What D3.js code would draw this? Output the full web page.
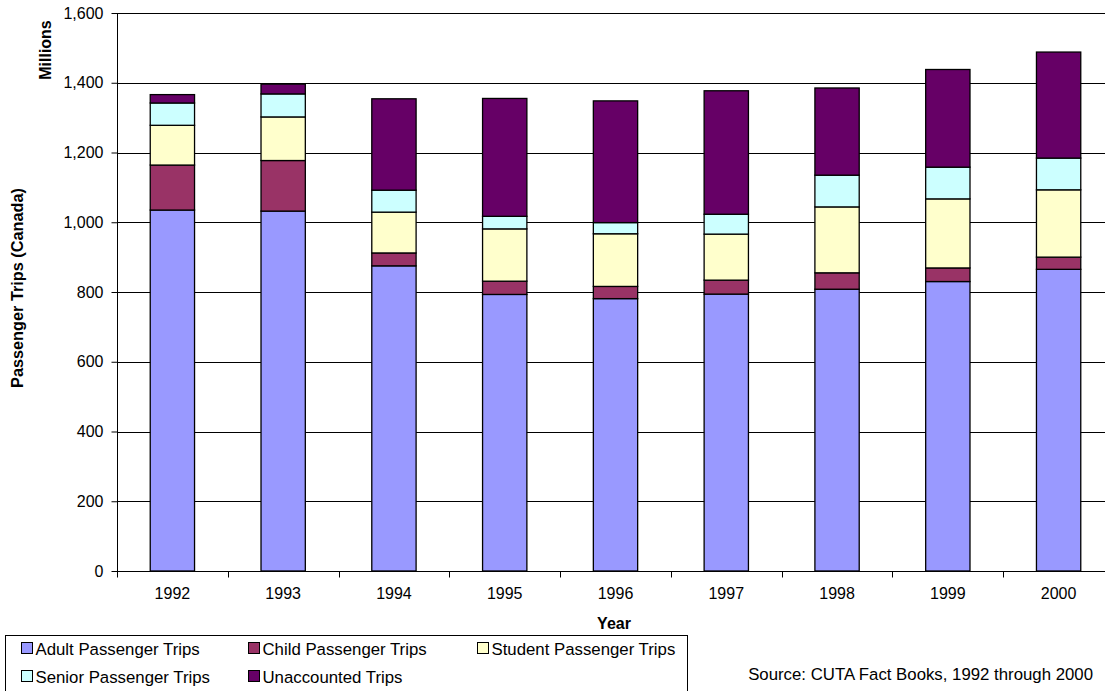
<!DOCTYPE html>
<html>
<head>
<meta charset="utf-8">
<script src="https://cdn.jsdelivr.net/npm/d3@7"></script>
<style>
  html, body { margin: 0; padding: 0; background: #fff; }
  svg { display: block; font-family: Arial, "Liberation Sans", sans-serif; }
</style>
</head>
<body>
<svg id="chart" width="1105" height="691"></svg>
<script>
// Passenger trips in Canada by fare category, millions
const years = ["1992", "1993", "1994", "1995", "1996", "1997", "1998", "1999", "2000"];
const adultTrips       = [1035, 1032, 875, 793, 781, 794, 808, 830, 865];
const childTrips       = [129, 145, 37, 38, 35, 40, 47, 39, 35];
const studentTrips     = [114, 125, 117, 150, 151, 132, 189, 198, 193];
const seniorTrips      = [64, 66, 63, 36, 32, 57, 91, 91, 91];
const unaccountedTrips = [24, 28, 262, 338, 349, 354, 250, 280, 304];

const seriesNames = ["Adult Passenger Trips", "Child Passenger Trips", "Student Passenger Trips",
                     "Senior Passenger Trips", "Unaccounted Trips"];
const seriesColors = ["#9999FF", "#993366", "#FFFFCC", "#CCFFFF", "#660066"];
const yTicks = [0, 200, 400, 600, 800, 1000, 1200, 1400, 1600];

const seriesValues = [adultTrips, childTrips, studentTrips, seniorTrips, unaccountedTrips];
const table = years.map((y, i) => {
  const row = { year: y };
  seriesNames.forEach((s, k) => { row[s] = seriesValues[k][i]; });
  return row;
});

const svg = d3.select("#chart");
const plot = { left: 117, top: 13, right: 1114, bottom: 571 };

const x = d3.scaleBand().domain(years).range([plot.left, plot.right])
  .paddingInner(0.6).paddingOuter(0.3);
const y = d3.scaleLinear().domain([0, 1600]).range([plot.bottom, plot.top]);

// horizontal gridlines
svg.append("g")
  .selectAll("line").data(yTicks.filter(d => d > 0)).join("line")
  .attr("x1", plot.left).attr("x2", plot.right)
  .attr("y1", d => Math.round(y(d)) + 0.5).attr("y2", d => Math.round(y(d)) + 0.5)
  .attr("stroke", "#000").attr("stroke-width", 1);

// stacked bars
const stack = d3.stack().keys(seriesNames)(table);
svg.append("g").selectAll("g").data(stack).join("g")
  .attr("fill", (d, i) => seriesColors[i])
  .selectAll("rect").data(d => d).join("rect")
  .attr("x", d => x(d.data.year))
  .attr("y", d => y(d[1]))
  .attr("width", x.bandwidth())
  .attr("height", d => y(d[0]) - y(d[1]))
  .attr("stroke", "#000").attr("stroke-width", 1.3);

// y axis
const yAxis = svg.append("g")
  .attr("transform", `translate(${plot.left + 0.5},0)`)
  .call(d3.axisLeft(y).tickValues(yTicks).tickSize(6).tickPadding(8)
    .tickFormat(d3.format(",")));
yAxis.select(".domain").attr("stroke", "#000").attr("d", `M0,${plot.top}V${plot.bottom}`);
yAxis.selectAll(".tick line").attr("stroke", "#000");
yAxis.selectAll(".tick text").attr("font-size", 16).attr("fill", "#000")
  .attr("font-family", "Arial, 'Liberation Sans', sans-serif");

// x axis: ticks sit between categories
const xAxisG = svg.append("g").attr("transform", `translate(0,${plot.bottom + 0.5})`);
xAxisG.append("line").attr("x1", plot.left).attr("x2", plot.right)
  .attr("stroke", "#000");
const step = x.step();
const boundaries = d3.range(years.length + 1).map(i => plot.left + i * step);
xAxisG.selectAll("line.tk").data(boundaries).join("line").attr("class", "tk")
  .attr("x1", d => Math.round(d) + 0.5).attr("x2", d => Math.round(d) + 0.5)
  .attr("y1", 0).attr("y2", 6).attr("stroke", "#000");
xAxisG.selectAll("text").data(years).join("text")
  .attr("x", d => x(d) + x.bandwidth() / 2)
  .attr("y", 27)
  .attr("text-anchor", "middle")
  .attr("font-size", 16)
  .text(d => d);

// axis titles
svg.append("text").attr("x", 614).attr("y", 629).attr("text-anchor", "middle")
  .attr("font-size", 16).attr("font-weight", "bold").text("Year");
svg.append("text").attr("transform", "translate(51,50) rotate(-90)")
  .attr("text-anchor", "middle").attr("font-size", 16).attr("font-weight", "bold")
  .text("Millions");
svg.append("text").attr("transform", "translate(23,288) rotate(-90)")
  .attr("text-anchor", "middle").attr("font-size", 16.3).attr("font-weight", "bold")
  .text("Passenger Trips (Canada)");

// legend
const legend = svg.append("g");
legend.append("rect").attr("x", 5.5).attr("y", 635.5).attr("width", 682).attr("height", 70)
  .attr("fill", "#fff").attr("stroke", "#000");
const legendPos = [[21, 648], [248, 648], [477, 648], [21, 676], [248, 676]];
seriesNames.forEach((name, i) => {
  const [lx, ly] = legendPos[i];
  legend.append("rect").attr("x", lx + 0.5).attr("y", ly - 5.5).attr("width", 11).attr("height", 11)
    .attr("fill", seriesColors[i]).attr("stroke", "#000");
  legend.append("text").attr("x", lx + 14.5).attr("y", ly + 6.5)
    .attr("font-size", 16.8).text(name);
});

// source note
svg.append("text").attr("x", 1093).attr("y", 680).attr("text-anchor", "end")
  .attr("font-size", 16.8).text("Source: CUTA Fact Books, 1992 through 2000");
</script>
</body>
</html>
